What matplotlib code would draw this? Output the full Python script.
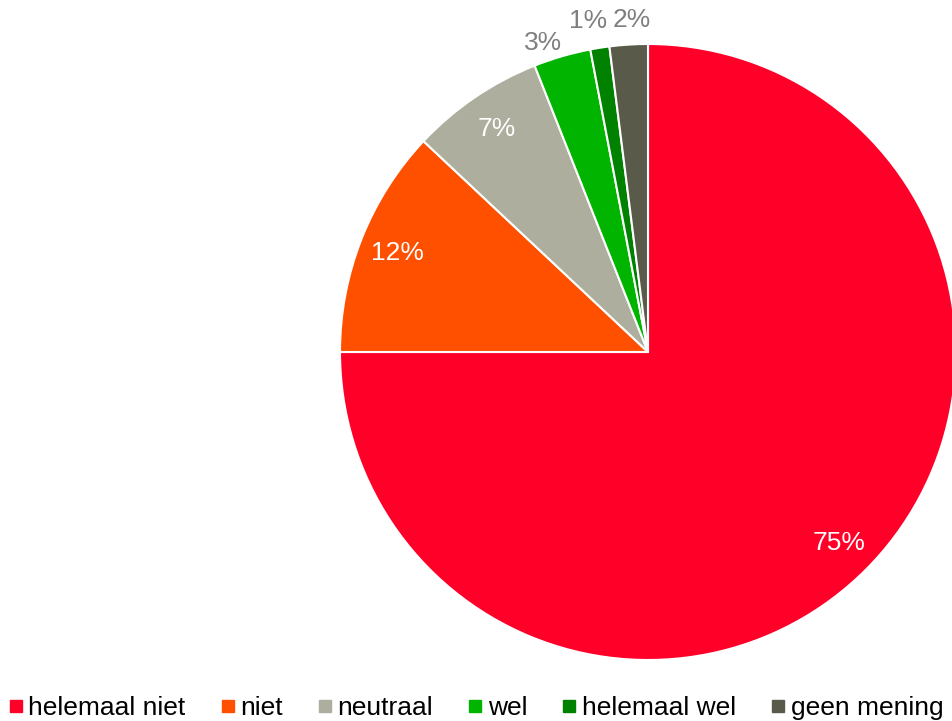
import numpy as np
import matplotlib
matplotlib.use("Agg")
import matplotlib.pyplot as plt
from matplotlib.lines import Line2D

plt.rcParams['font.family'] = ['Liberation Sans', 'DejaVu Sans']

categories = ['helemaal niet', 'niet', 'neutraal', 'wel', 'helemaal wel', 'geen mening']
values = [75, 12, 7, 3, 1, 2]
colors = ['#FF0029', '#FF5000', '#ADAE9E', '#00B400', '#008200', '#5A5A4B']

# label placement style for each slice: (radius, ha, va, x-offset px, colour)
label_style = [
    (0.875, 'center', 'center', 0, 'white'),
    (0.875, 'center', 'center', 0, 'white'),
    (0.875, 'center', 'center', 0, 'white'),
    (1.005, 'right', 'bottom', 0, '#7F7F7F'),
    (1.05, 'center', 'bottom', -9, '#7F7F7F'),
    (1.04, 'center', 'bottom', 4, '#7F7F7F'),
]

W, H = 953, 721
fig = plt.figure(figsize=(W / 100, H / 100), dpi=100)
cx, cy, R = 648, 352, 308
ax = fig.add_axes([(cx - R) / W, (H - cy - R) / H, 2 * R / W, 2 * R / H])

wedges, _ = ax.pie(values, colors=colors, startangle=90, counterclock=False,
                   radius=1.0, wedgeprops=dict(edgecolor='white', linewidth=1.5))
ax.set_xlim(-1, 1)
ax.set_ylim(-1, 1)
ax.set_aspect('equal')
ax.axis('off')

for w, v, (r, ha, va, dx, col) in zip(wedges, values, label_style):
    mid = np.deg2rad((w.theta1 + w.theta2) / 2)
    ax.annotate(f"{v}%", xy=(r * np.cos(mid), r * np.sin(mid)), xytext=(dx, 0),
                textcoords='offset pixels', ha=ha, va=va, color=col, fontsize=19,
                annotation_clip=False)

handles = [Line2D([0], [0], marker='s', linestyle='none', markersize=8,
                  markerfacecolor=c, markeredgecolor=c) for c in colors]
fig.legend(handles, categories, loc='center', bbox_to_anchor=(0.5, 1 - 708 / H),
           ncol=6, frameon=False, fontsize=19, handlelength=0.45, handletextpad=0.25,
           columnspacing=1.37, borderaxespad=0, borderpad=0)

fig.savefig('out.png', dpi=100)
